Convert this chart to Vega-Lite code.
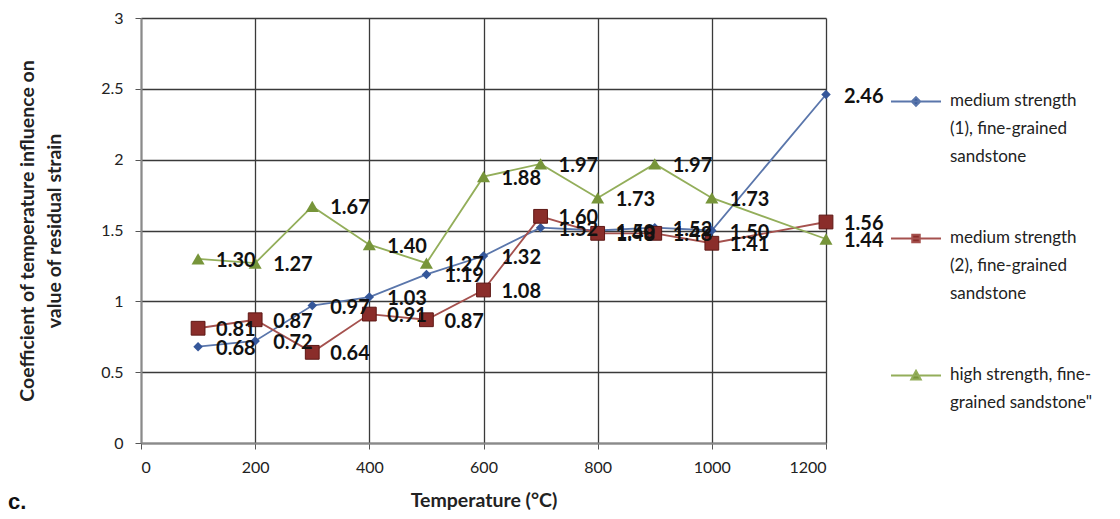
{
  "$schema": "https://vega.github.io/schema/vega-lite/v6.json",
  "width": 685,
  "height": 425,
  "autosize": "none",
  "padding": {"left": 141, "top": 18, "right": 294, "bottom": 76},
  "background": "white",
  "config": {
    "view": {"stroke": null},
    "font": "Lato",
    "style": {"guide-label": {"lineHeight": 28}},
    "axis": {
      "grid": true,
      "gridColor": "#3a3a3a",
      "gridWidth": 1.3,
      "domainColor": "#8a8a8a",
      "domainWidth": 2,
      "tickColor": "#555",
      "tickSize": 6,
      "labelFont": "Lato",
      "labelFontSize": 16,
      "labelColor": "#222",
      "titleFont": "Lato",
      "titleFontSize": 19.5,
      "titleFontWeight": "bold",
      "titleColor": "#222"
    },
    "legend": {
      "orient": "none",
      "legendX": 749,
      "legendY": 49,
      "padding": 0,
      "symbolSize": 2500,
      "symbolStrokeWidth": 2,
      "labelFont": "Lato",
      "labelFontSize": 17,
      "labelColor": "#222",
      "labelOffset": 8,
      "labelLimit": 300,
      "labelBaseline": "top",
      "rowPadding": 39
    }
  },
  "title": {
    "text": "c.",
    "orient": "bottom",
    "anchor": "start",
    "frame": "group",
    "dx": -133,
    "offset": -18,
    "font": "Liberation Sans",
    "fontSize": 22,
    "fontWeight": "bold",
    "color": "#111"
  },
  "data": {
    "values": [
      {"T": 100, "series": "medium strength (1), fine-grained sandstone", "v": 0.68},
      {"T": 200, "series": "medium strength (1), fine-grained sandstone", "v": 0.72},
      {"T": 300, "series": "medium strength (1), fine-grained sandstone", "v": 0.97},
      {"T": 400, "series": "medium strength (1), fine-grained sandstone", "v": 1.03},
      {"T": 500, "series": "medium strength (1), fine-grained sandstone", "v": 1.19},
      {"T": 600, "series": "medium strength (1), fine-grained sandstone", "v": 1.32},
      {"T": 700, "series": "medium strength (1), fine-grained sandstone", "v": 1.52},
      {"T": 800, "series": "medium strength (1), fine-grained sandstone", "v": 1.50},
      {"T": 900, "series": "medium strength (1), fine-grained sandstone", "v": 1.52},
      {"T": 1000, "series": "medium strength (1), fine-grained sandstone", "v": 1.50},
      {"T": 1200, "series": "medium strength (1), fine-grained sandstone", "v": 2.46},
      {"T": 100, "series": "medium strength (2), fine-grained sandstone", "v": 0.81},
      {"T": 200, "series": "medium strength (2), fine-grained sandstone", "v": 0.87},
      {"T": 300, "series": "medium strength (2), fine-grained sandstone", "v": 0.64},
      {"T": 400, "series": "medium strength (2), fine-grained sandstone", "v": 0.91},
      {"T": 500, "series": "medium strength (2), fine-grained sandstone", "v": 0.87},
      {"T": 600, "series": "medium strength (2), fine-grained sandstone", "v": 1.08},
      {"T": 700, "series": "medium strength (2), fine-grained sandstone", "v": 1.60},
      {"T": 800, "series": "medium strength (2), fine-grained sandstone", "v": 1.48},
      {"T": 900, "series": "medium strength (2), fine-grained sandstone", "v": 1.48},
      {"T": 1000, "series": "medium strength (2), fine-grained sandstone", "v": 1.41},
      {"T": 1200, "series": "medium strength (2), fine-grained sandstone", "v": 1.56},
      {"T": 100, "series": "high strength, fine-grained sandstone\"", "v": 1.30},
      {"T": 200, "series": "high strength, fine-grained sandstone\"", "v": 1.27},
      {"T": 300, "series": "high strength, fine-grained sandstone\"", "v": 1.67},
      {"T": 400, "series": "high strength, fine-grained sandstone\"", "v": 1.40},
      {"T": 500, "series": "high strength, fine-grained sandstone\"", "v": 1.27},
      {"T": 600, "series": "high strength, fine-grained sandstone\"", "v": 1.88},
      {"T": 700, "series": "high strength, fine-grained sandstone\"", "v": 1.97},
      {"T": 800, "series": "high strength, fine-grained sandstone\"", "v": 1.73},
      {"T": 900, "series": "high strength, fine-grained sandstone\"", "v": 1.97},
      {"T": 1000, "series": "high strength, fine-grained sandstone\"", "v": 1.73},
      {"T": 1200, "series": "high strength, fine-grained sandstone\"", "v": 1.44}
    ]
  },
  "encoding": {
    "x": {
      "field": "T",
      "type": "quantitative",
      "scale": {"domain": [0, 1200], "nice": false},
      "axis": {
        "values": [0, 200, 400, 600, 800, 1000, 1200],
        "format": "d",
        "title": "Temperature (°C)",
        "labelPadding": 10,
        "titlePadding": 16
      }
    },
    "y": {
      "field": "v",
      "type": "quantitative",
      "scale": {"domain": [0, 3], "nice": false},
      "axis": {
        "values": [0, 0.5, 1, 1.5, 2, 2.5, 3],
        "format": "~g",
        "title": ["Coefficient of temperature influence on", "value of residual strain"],
        "titleLineHeight": 27,
        "labelPadding": 12,
        "titlePadding": 36
      }
    }
  },
  "layer": [
    {
      "mark": {"type": "line", "strokeWidth": 1.8},
      "encoding": {
        "stroke": {
          "field": "series",
          "type": "nominal",
          "scale": {
            "domain": ["medium strength (1), fine-grained sandstone", "medium strength (2), fine-grained sandstone", "high strength, fine-grained sandstone\""],
            "range": ["#5a76ab", "#a5514e", "#93ae5a"]
          }
        }
      }
    },
    {
      "transform": [{"filter": "datum.series == 'medium strength (1), fine-grained sandstone'"}],
      "mark": {"type": "point", "shape": "diamond", "filled": true, "size": 90, "color": "#35579a", "opacity": 1}
    },
    {
      "transform": [{"filter": "datum.series == 'medium strength (2), fine-grained sandstone'"}],
      "mark": {"type": "point", "shape": "square", "filled": true, "size": 190, "color": "#8a2d2a", "stroke": "#5e1815", "strokeWidth": 1, "opacity": 1}
    },
    {
      "transform": [{"filter": "datum.series == 'high strength, fine-grained sandstone\"'"}],
      "mark": {"type": "point", "shape": "triangle-up", "filled": true, "size": 170, "color": "#77953a", "opacity": 1}
    },
    {
      "transform": [{"filter": "datum.T < 0"}],
      "mark": {"type": "point", "filled": true, "opacity": 1, "strokeWidth": 2},
      "encoding": {
        "fill": {
          "field": "series",
          "type": "nominal",
          "scale": {
            "domain": ["medium strength (1), fine-grained sandstone", "medium strength (2), fine-grained sandstone", "high strength, fine-grained sandstone\""],
            "range": ["#35579a", "#8a2d2a", "#77953a"]
          }
        },
        "stroke": {"field": "series", "type": "nominal"},
        "shape": {
          "field": "series",
          "type": "nominal",
          "scale": {
            "domain": ["medium strength (1), fine-grained sandstone", "medium strength (2), fine-grained sandstone", "high strength, fine-grained sandstone\""],
            "range": [
              "M-1,0.34H1M0,0.17L0.17,0.34L0,0.51L-0.17,0.34Z",
              "M-1,0.34H1M-0.15,0.19H0.15V0.49H-0.15Z",
              "M-1,0.34H1M0,0.15L0.19,0.5H-0.19Z"
            ]
          },
          "legend": {
            "title": null,
            "labelExpr": "datum.label == 'medium strength (1), fine-grained sandstone' ? ['medium strength', '(1), fine-grained', 'sandstone'] : datum.label == 'medium strength (2), fine-grained sandstone' ? ['medium strength', '(2), fine-grained', 'sandstone'] : ['high strength, fine-', 'grained sandstone\"']"
          }
        }
      }
    },
    {
      "mark": {"type": "text", "align": "left", "baseline": "middle", "dx": 18, "dy": 2, "font": "Lato", "fontSize": 20, "fontWeight": "bold", "color": "#111"},
      "encoding": {
        "text": {"field": "v", "type": "quantitative", "format": ".2f"}
      }
    }
  ]
}
